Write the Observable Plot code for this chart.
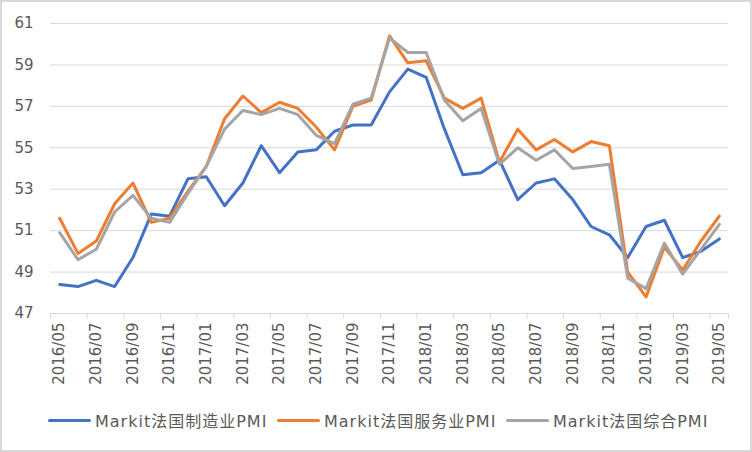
<!DOCTYPE html>
<html>
<head>
<meta charset="utf-8">
<script src="https://cdn.jsdelivr.net/npm/d3@7"></script>
<script src="https://cdn.jsdelivr.net/npm/@observablehq/plot@0.6"></script>
<style>
  html, body { margin: 0; padding: 0; background: #fff; }
  #wrap { position: relative; width: 752px; height: 452px; background: #fff; overflow: hidden; }
  #frame { position: absolute; left: 0; top: 0; width: 752px; height: 452px; box-sizing: border-box; border: 2px solid #d9d9d9; pointer-events: none; }
  #chart { position: absolute; left: 0; top: 0; }
  #legend { position: absolute; left: 0; top: 408px; width: 752px; height: 24px; font-family: "DejaVu Sans", "Noto Sans CJK SC", sans-serif; font-size: 16px; letter-spacing: 1px; color: #595959; white-space: nowrap; }
  .item { position: absolute; top: 0; display: flex; align-items: center; height: 24px; }
  .sw { display: inline-block; width: 43px; height: 3px; border-radius: 2px; margin-right: 4px; }
</style>
</head>
<body>
<div id="wrap">
  <div id="chart"></div>
  <div id="legend"></div>
  <div id="frame"></div>
</div>
<script>
const months = ["2016/05","2016/06","2016/07","2016/08","2016/09","2016/10","2016/11","2016/12",
  "2017/01","2017/02","2017/03","2017/04","2017/05","2017/06","2017/07","2017/08","2017/09","2017/10","2017/11","2017/12",
  "2018/01","2018/02","2018/03","2018/04","2018/05","2018/06","2018/07","2018/08","2018/09","2018/10","2018/11","2018/12",
  "2019/01","2019/02","2019/03","2019/04","2019/05"];
const manufacturing = [48.4,48.3,48.6,48.3,49.7,51.8,51.7,53.5,53.6,52.2,53.3,55.1,53.8,54.8,54.9,55.8,56.1,56.1,57.7,58.8,58.4,55.9,53.7,53.8,54.4,52.5,53.3,53.5,52.5,51.2,50.8,49.7,51.2,51.5,49.7,50.0,50.6];
const services = [51.6,49.9,50.5,52.3,53.3,51.4,51.6,52.9,54.1,56.4,57.5,56.7,57.2,56.9,56.0,54.9,57.0,57.3,60.4,59.1,59.2,57.4,56.9,57.4,54.3,55.9,54.9,55.4,54.8,55.3,55.1,49.0,47.8,50.2,49.1,50.5,51.7];
const composite = [50.9,49.6,50.1,51.9,52.7,51.6,51.4,52.8,54.1,55.9,56.8,56.6,56.9,56.6,55.6,55.2,57.1,57.4,60.3,59.6,59.6,57.3,56.3,56.9,54.2,55.0,54.4,54.9,54.0,54.1,54.2,48.7,48.2,50.4,48.9,50.1,51.3];
const seriesNames = ["Markit法国制造业PMI","Markit法国服务业PMI","Markit法国综合PMI"];
const seriesColors = ["#4472C4","#ED7D31","#A5A5A5"];
const yTicks = [47,49,51,53,55,57,59,61];

const seriesValues = [manufacturing, services, composite];
const idx = months.map((_, i) => i);
const labelTicks = idx.filter(i => i % 2 === 0);
const boundaryTicks = d3.range(-0.5, months.length, 2).concat([months.length - 0.5]);

const lineMarks = seriesValues.map((vals, s) =>
  Plot.line(idx, {x: i => i, y: i => vals[i], stroke: seriesColors[s], strokeWidth: 3, strokeLinejoin: "round", strokeLinecap: "round"})
);

const chart = Plot.plot({
  width: 752,
  height: 395,
  marginLeft: 50,
  marginRight: 24,
  marginTop: 23,
  marginBottom: 82,
  style: {fontFamily: "DejaVu Sans, 'Noto Sans CJK SC', sans-serif", fontSize: "15px", color: "#595959", background: "transparent"},
  x: {type: "linear", domain: [-0.5, months.length - 0.5]},
  y: {domain: [47, 61]},
  marks: [
    Plot.gridY(yTicks.slice(1), {stroke: "#d9d9d9", strokeOpacity: 1}),
    Plot.ruleY([47], {stroke: "#d9d9d9"}),
    Plot.axisX({ticks: boundaryTicks, tickSize: 6, tickFormat: () => "", stroke: "#d9d9d9", strokeOpacity: 1, label: null}),
    Plot.axisX({ticks: labelTicks, tickSize: 0, tickPadding: 9, tickRotate: -90, tickFormat: i => months[i], label: null, fill: "#595959", style: {letterSpacing: "1px"}}),
    Plot.axisY({ticks: yTicks, tickSize: 0, tickPadding: 17, label: null, fill: "#595959", fontSize: 15}),
    ...lineMarks
  ]
});
document.getElementById("chart").appendChild(chart);

const legend = document.getElementById("legend");
const legendX = [48, 277, 506];
seriesNames.forEach((name, s) => {
  const item = document.createElement("div");
  item.className = "item";
  item.style.left = legendX[s] + "px";
  const sw = document.createElement("span");
  sw.className = "sw";
  sw.style.background = seriesColors[s];
  const t = document.createElement("span");
  t.textContent = name;
  item.appendChild(sw);
  item.appendChild(t);
  legend.appendChild(item);
});
</script>
</body>
</html>
